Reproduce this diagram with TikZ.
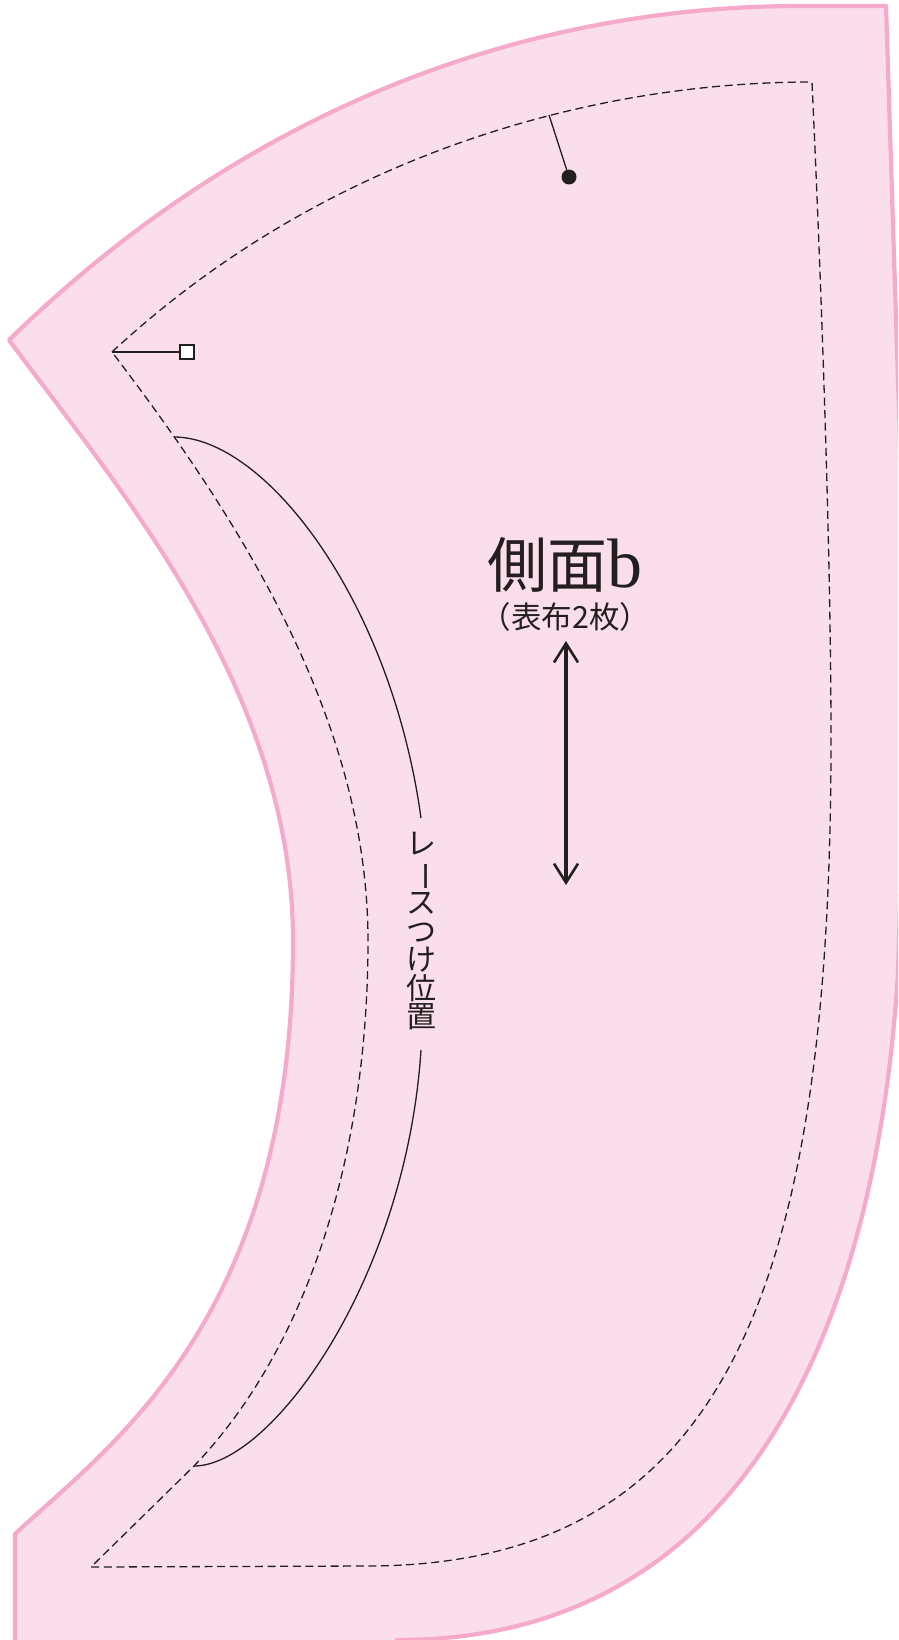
\documentclass[tikz,border=0pt]{standalone}
\usepackage{fontspec}
\usetikzlibrary{arrows.meta}
\setmainfont{Liberation Serif}
\newfontfamily\cjk{Noto Sans CJK JP}
\definecolor{piece}{HTML}{FBDEEB}
\definecolor{edge}{HTML}{F5AACB}
\definecolor{ink}{HTML}{231F20}
\tikzset{
  outline/.style={draw=edge,fill=piece,line width=4.2pt,line join=round},
  seam/.style={draw=ink,line width=1.3pt,dash pattern=on 8pt off 4.6pt},
  thinline/.style={draw=ink,line width=1.3pt},
  grain/.style={draw=ink,line width=4pt,{Straight Barb[length=19pt,width=24pt,line width=2.6pt]}-{Straight Barb[length=19pt,width=24pt,line width=2.6pt]}},
  lbl/.style={text=ink,inner sep=0pt}
}
\begin{document}
\begin{tikzpicture}[x=1pt,y=-1pt]
\useasboundingbox (0,0) rectangle (898,1640);
\clip (0,0) rectangle (898,1640);
\path[outline] (15,1534) .. controls (110,1445) and (293,1320) .. (293,941)
  .. controls (293,690) and (120,490) .. (9,340)
  .. controls (270,85) and (560,6) .. (800,6) -- (886,6)
  -- (897,350) -- (900,440) -- (905,740) -- (898,972)
  .. controls (878,1300) and (760,1640) .. (397,1640)
  -- (397,1660) -- (15,1660) -- cycle;
\path[seam] (112,352) .. controls (330,150) and (600,82) .. (812,82)
  .. controls (822,300) and (831,560) .. (831,740)
  .. controls (831,1300) and (720,1566) .. (366,1566)
  -- (91,1567) -- (194,1466)
  .. controls (310,1345) and (368,1150) .. (368,941)
  .. controls (368,720) and (240,520) .. (112,352);
\draw[thinline] (174,437) .. controls (265,437) and (391,600) .. (421,818);
\draw[thinline] (421,1050) .. controls (406,1280) and (271,1466) .. (194,1466);
\coordinate (corner) at (112,352);
\coordinate (top) at (549,115);
\node[draw=ink,fill=white,line width=2pt,minimum size=14pt,inner sep=0pt] (sq) at (187,352) {};
\node[circle,fill=ink,minimum size=15pt,inner sep=0pt] (dot) at (569,177) {};
\draw[thinline] (corner) -- (sq);
\draw[thinline] (top) -- (dot);
\node[lbl,anchor=base,font=\fontsize{60}{60}\selectfont] (title) at (565,587) {{\cjk 側面}{\fontsize{70}{70}\selectfont b}};
\node[lbl,font=\cjk\fontsize{30.5}{30.5}\selectfont] (sub) at (565.5,617) {（表布2枚）};
\coordinate (gt) at (566,641);
\coordinate (gb) at (566,885);
\draw[grain] (gt) -- (gb);
\node[lbl,align=center,font=\cjk\fontsize{30}{28.5}\selectfont] (lace) at (421,931) {レ\\\rotatebox[origin=c]{-90}{ー}\\ス\\つ\\け\\位\\置};
\end{tikzpicture}
\end{document}
